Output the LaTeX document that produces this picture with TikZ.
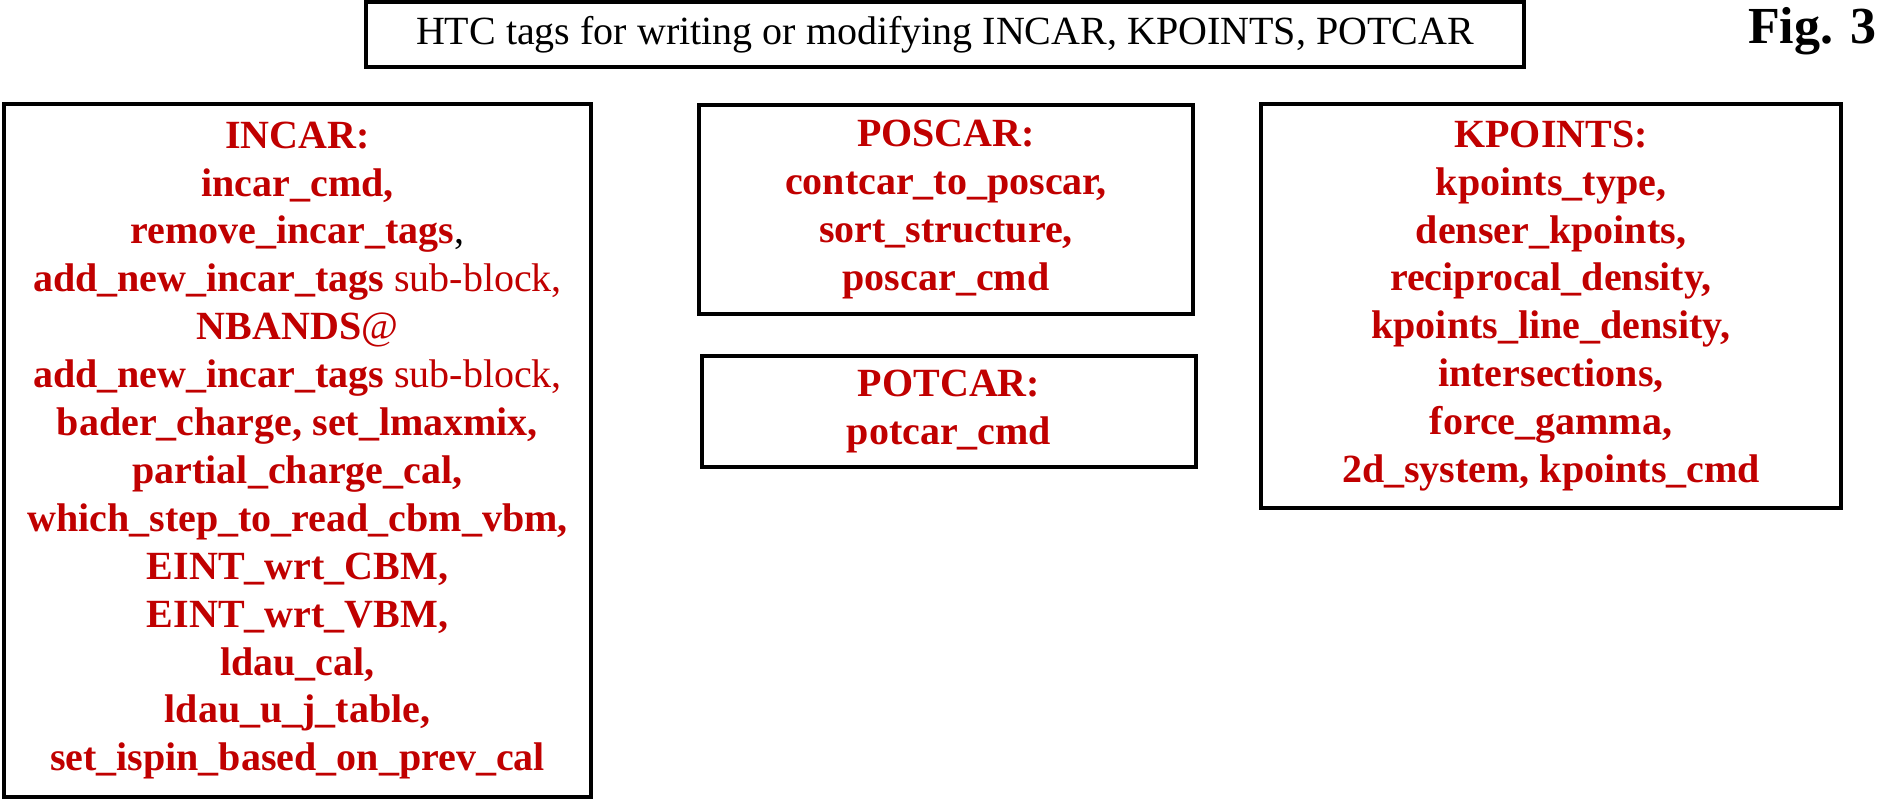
\documentclass[tikz,border=0pt]{standalone}
\usepackage{fontspec}
\setmainfont{Liberation Serif}
\definecolor{tagred}{HTML}{C00000}
\begin{document}
\begin{tikzpicture}[x=1pt,y=-1pt,
  frame/.style={draw=black, line width=4pt, inner sep=0pt, outer sep=0pt, anchor=center, align=center},
  tagbox/.style={frame, text=tagred, font=\fontsize{40}{47.9}\selectfont\bfseries},
  titlebox/.style={frame, text=black, font=\fontsize{40}{48}\selectfont},
  figlabel/.style={anchor=base west, inner sep=0pt, font=\fontsize{52}{60}\selectfont\bfseries}
]
\useasboundingbox (0,0) rectangle (1877,800);
\node[titlebox, minimum width=1158pt, minimum height=65pt] (title) at (945,34.5)
  {HTC tags for writing or modifying INCAR, KPOINTS, POTCAR};
\node[figlabel] (fig) at (1748,44) {Fig. 3};
\node[tagbox, minimum width=587pt, minimum height=693pt] (incar) at (297.5,450.5)
  {INCAR:\\
   incar\_cmd,\\
   remove\_incar\_tags{\color{black}\mdseries,}\\
   add\_new\_incar\_tags {\mdseries sub-block,}\\
   NBANDS{\mdseries @}\\
   add\_new\_incar\_tags {\mdseries sub-block,}\\
   bader\_charge, set\_lmaxmix,\\
   partial\_charge\_cal,\\
   which\_step\_to\_read\_cbm\_vbm,\\
   EINT\_wrt\_CBM,\\
   EINT\_wrt\_VBM,\\
   ldau\_cal,\\
   ldau\_u\_j\_table,\\
   set\_ispin\_based\_on\_prev\_cal};
\node[tagbox, minimum width=494pt, minimum height=209pt] (poscar) at (946,209.5)
  {POSCAR:\\
   contcar\_to\_poscar,\\
   sort\_structure,\\
   poscar\_cmd};
\node[tagbox, minimum width=494pt, minimum height=111pt] (potcar) at (949,411.5)
  {POTCAR:\\
   potcar\_cmd};
\node[tagbox, minimum width=580pt, minimum height=404pt] (kpoints) at (1551,306)
  {KPOINTS:\\
   kpoints\_type,\\
   denser\_kpoints,\\
   reciprocal\_density,\\
   kpoints\_line\_density,\\
   intersections,\\
   force\_gamma,\\
   2d\_system, kpoints\_cmd};
\end{tikzpicture}
\end{document}
